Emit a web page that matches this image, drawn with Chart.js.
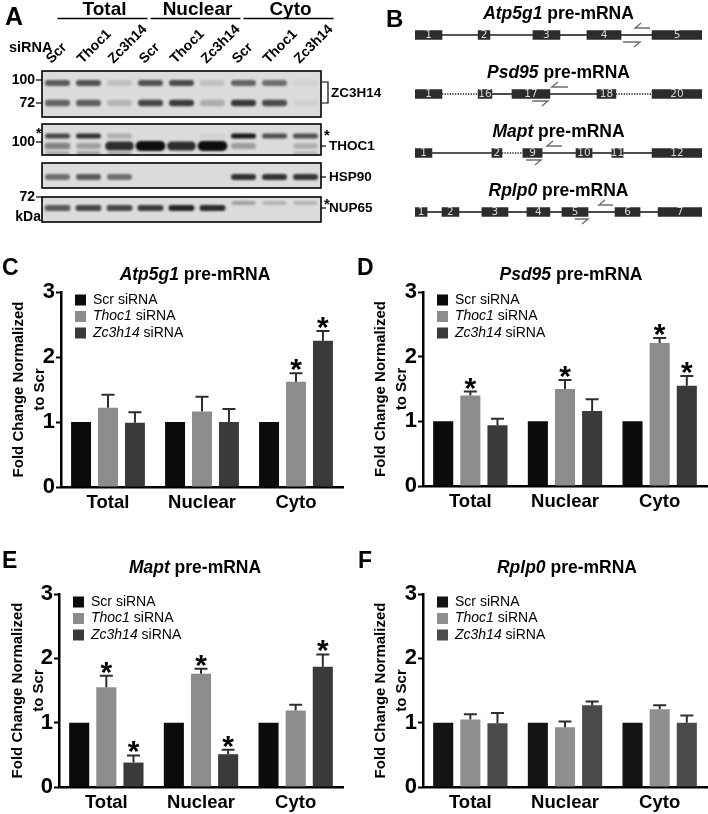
<!DOCTYPE html>
<html>
<head>
<meta charset="utf-8">
<script src="https://cdn.jsdelivr.net/npm/chart.js@4.4.1/dist/chart.umd.min.js"></script>
<style>
  body { margin: 0; background: #fff; font-family: 'Liberation Sans', Arial, sans-serif; }
  #page { position: relative; width: 708px; height: 814px; overflow: hidden; background: #fff; }
  canvas { position: absolute; }
  .letter { position: absolute; font-weight: bold; font-size: 24px; line-height: 1; }
  .title { position: absolute; font-weight: bold; font-size: 17.5px; line-height: 1; text-align: center; white-space: nowrap; }
</style>
</head>
<body>
<div id="page">
  <canvas id="blot" width="392" height="232" style="left:0;top:0"></canvas>
  <canvas id="genes" width="328" height="245" style="left:380px;top:0"></canvas>
  <canvas id="chartC" width="354" height="290" style="left:0;top:230px"></canvas>
  <canvas id="chartD" width="354" height="290" style="left:354px;top:230px"></canvas>
  <canvas id="chartE" width="354" height="284" style="left:0;top:530px"></canvas>
  <canvas id="chartF" width="354" height="284" style="left:354px;top:530px"></canvas>

  <div class="letter" style="left:5px;top:4px;font-size:25px">A</div>
  <div class="letter" style="left:386px;top:7px">B</div>
  <div class="letter" style="left:2px;top:256px;font-size:23px">C</div>
  <div class="letter" style="left:357px;top:256px;font-size:23px">D</div>
  <div class="letter" style="left:2px;top:549px;font-size:23px">E</div>
  <div class="letter" style="left:358px;top:549px;font-size:23px">F</div>

  <div class="title" style="left:40px;top:266px;width:310px"><i>Atp5g1</i> pre-mRNA</div>
  <div class="title" style="left:416px;top:266px;width:310px"><i>Psd95</i> pre-mRNA</div>
  <div class="title" style="left:40px;top:559px;width:310px"><i>Mapt</i> pre-mRNA</div>
  <div class="title" style="left:412px;top:559px;width:310px"><i>Rplp0</i> pre-mRNA</div>
</div>

<script>
const FONT = "'Liberation Sans', Arial, sans-serif";
Chart.defaults.font.family = FONT;
Chart.defaults.color = '#000';

// ---------- bar chart data (C-F) ----------
const fractions = ['Total', 'Nuclear', 'Cyto'];
const seriesNames = ['Scr', 'Thoc1', 'Zc3h14'];
const seriesItalic = [false, true, true];

// rows: Scr, Thoc1, Zc3h14 ; columns: Total, Nuclear, Cyto
const atp5g1Mean = [[1, 1, 1], [1.22, 1.16, 1.62], [0.99, 1.00, 2.25]];
const atp5g1Err  = [[0, 0, 0], [0.20, 0.23, 0.13], [0.16, 0.20, 0.15]];
const atp5g1Sig  = [[0, 0, 0], [0, 0, 1], [0, 0, 1]];

const psd95Mean = [[1, 1, 1], [1.40, 1.50, 2.21], [0.94, 1.16, 1.55]];
const psd95Err  = [[0, 0, 0], [0.06, 0.14, 0.08], [0.10, 0.18, 0.15]];
const psd95Sig  = [[0, 0, 0], [1, 1, 1], [0, 0, 1]];

const maptMean = [[1, 1, 1], [1.55, 1.76, 1.19], [0.38, 0.51, 1.87]];
const maptErr  = [[0, 0, 0], [0.18, 0.08, 0.09], [0.11, 0.07, 0.19]];
const maptSig  = [[0, 0, 0], [1, 1, 0], [1, 1, 1]];

const rplp0Mean = [[1, 1, 1], [1.05, 0.93, 1.21], [0.99, 1.27, 1.00]];
const rplp0Err  = [[0, 0, 0], [0.08, 0.09, 0.06], [0.16, 0.06, 0.11]];
const rplp0Sig  = [[0, 0, 0], [0, 0, 0], [0, 0, 0]];

const yTicks = [0, 1, 2, 3];
const barColors = ['#0b0b0b', '#8c8c8c', '#3a3a3a'];
const barColorsF = ['#141414', '#8f8f8f', '#4a4a4a'];

// ---------- western blot data (A) ----------
const lanes = ['Scr', 'Thoc1', 'Zc3h14', 'Scr', 'Thoc1', 'Zc3h14', 'Scr', 'Thoc1', 'Zc3h14'];
const zc3h14Upper = [0.62, 0.66, 0.12, 0.66, 0.70, 0.12, 0.58, 0.52, 0.04];
const zc3h14Lower = [0.58, 0.60, 0.18, 0.72, 0.78, 0.22, 0.80, 0.70, 0.04];
const thoc1Upper  = [0.72, 0.82, 0.22, 0, 0, 0.05, 0.95, 0.68, 0.68];
const thoc1Main   = [0.42, 0.28, 0.85, 1.00, 0.85, 1.00, 0.30, 0, 0.22];
const thoc1Lower  = [0.28, 0.32, 0.28, 0, 0, 0, 0, 0, 0.2];
const hsp90Band   = [0.52, 0.62, 0.52, 0, 0, 0, 0.82, 0.82, 0.80];
const nup65Band   = [0.62, 0.72, 0.72, 0.78, 0.88, 0.85, 0, 0, 0];
const nup65Upper  = [0, 0, 0, 0, 0, 0, 0.28, 0.18, 0.18];

// ---------- gene structure data (B), positions in % of gene width ----------
const genes = ['Atp5g1', 'Psd95', 'Mapt', 'Rplp0'];
const atp5g1Exons = [[0, 9.4], [22, 26.1], [41.1, 50.5], [59.9, 71.8], [82.6, 100]];
const psd95Exons  = [[0, 9.4], [22, 26.8], [33.8, 47], [63.4, 70], [82.6, 100]];
const maptExons   = [[0, 5.9], [26.8, 30.3], [37.6, 44.3], [56.1, 61.7], [68.6, 72.5], [82.6, 100]];
const rplp0Exons  = [[0, 4.2], [9.4, 15.3], [23.3, 32.4], [39, 47], [51.2, 60.3], [69.7, 78.4], [84.7, 100]];
const atp5g1ExonNo = ['1', '2', '3', '4', '5'];
const psd95ExonNo  = ['1', '16', '17', '18', '20'];
const maptExonNo   = ['1', '2', '9', '10', '11', '12'];
const rplp0ExonNo  = ['1', '2', '3', '4', '5', '6', '7'];
const atp5g1Introns = ['solid', 'solid', 'solid', 'solid'];
const psd95Introns  = ['dot', 'solid', 'solid', 'dot'];
const maptIntrons   = ['solid', 'dot', 'solid', 'solid', 'solid'];
const rplp0Introns  = ['solid', 'solid', 'solid', 'solid', 'solid', 'solid'];
// forward primer span, reverse primer span
const atp5g1Primers = [[72.5, 78.4], [76.7, 81.9]];
const psd95Primers  = [[40.8, 46.3], [47.7, 53.3]];
const maptPrimers   = [[38.7, 43.9], [46.0, 51.2]];
const rplp0Primers  = [[55.7, 60.3], [64.1, 69.0]];

// ================= panel A =================
// blot strips in blot-scale units (top..bottom)
const strips = [[0, 46], [53, 84], [92, 117], [126, 151]];
const bandRows = [
  { y: 12, h: 6, w: 25, vals: zc3h14Upper },
  { y: 32, h: 6.5, w: 25, vals: zc3h14Lower },
  { y: 65, h: 5, w: 25, vals: thoc1Upper },
  { y: 75, h: 7, w: 27, vals: thoc1Main, grow: true },
  { y: 82, h: 3, w: 24, vals: thoc1Lower },
  { y: 106, h: 6, w: 25, vals: hsp90Band },
  { y: 132, h: 4, w: 24, vals: nup65Upper },
  { y: 137, h: 6, w: 26, vals: nup65Band }
];

const blotExtras = {
  id: 'blotExtras',
  afterDraw(chart) {
    const { ctx, chartArea, scales: { x, y } } = chart;
    const L = chartArea.left, R = chartArea.right;
    ctx.save();
    strips.forEach(([a, b]) => {
      ctx.fillStyle = '#dcdcdc';
      ctx.fillRect(L, y.getPixelForValue(a), R - L, y.getPixelForValue(b) - y.getPixelForValue(a));
    });
    ctx.filter = 'blur(1.2px)';
    bandRows.forEach(row => {
      row.vals.forEach((v, i) => {
        if (v <= 0) return;
        const g = Math.round(218 - 205 * v);
        ctx.fillStyle = `rgb(${g},${g},${g})`;
        const h = row.grow ? row.h * (0.6 + 0.8 * v) : row.h;
        const w = row.grow ? row.w * (0.85 + 0.25 * v) : row.w;
        const cx = x.getPixelForValue(i), cy = y.getPixelForValue(row.y);
        ctx.beginPath();
        ctx.roundRect(cx - w / 2, cy - h / 2, w, h, h / 2);
        ctx.fill();
      });
    });
    ctx.filter = 'none';
    ctx.strokeStyle = '#000';
    ctx.lineWidth = 1.6;
    strips.forEach(([a, b]) => {
      ctx.strokeRect(L, y.getPixelForValue(a), R - L, y.getPixelForValue(b) - y.getPixelForValue(a));
    });

    // fraction headers with underlines
    ctx.fillStyle = '#000';
    ctx.font = `bold 19px ${FONT}`;
    ctx.textAlign = 'center';
    ctx.textBaseline = 'alphabetic';
    ctx.lineWidth = 1.5;
    fractions.forEach((f, k) => {
      const x0 = x.getPixelForValue(k * 3), x1 = x.getPixelForValue(k * 3 + 2) + 28;
      ctx.fillText(f, (x0 + x1) / 2 + 2, 15);
      ctx.beginPath(); ctx.moveTo(x0, 18.5); ctx.lineTo(x1, 18.5); ctx.stroke();
    });
    ctx.textAlign = 'left';
    ctx.font = `bold 14.5px ${FONT}`;
    ctx.fillText('siRNA', 9, 52);

    // rotated lane labels
    ctx.font = `bold 14px ${FONT}`;
    lanes.forEach((lab, i) => {
      ctx.save();
      ctx.translate(x.getPixelForValue(i) - 6, 64);
      ctx.rotate(-Math.PI / 4);
      ctx.fillText(lab, 0, 0);
      ctx.restore();
    });

    // molecular weight markers
    ctx.font = `bold 14px ${FONT}`;
    ctx.textAlign = 'right';
    ctx.textBaseline = 'middle';
    ctx.lineWidth = 1.2;
    [['100', 9], ['72', 32], ['100', 71], ['72', 126]].forEach(([t, v]) => {
      const py = y.getPixelForValue(v);
      ctx.fillText(t, 35, py);
      ctx.beginPath(); ctx.moveTo(36, py); ctx.lineTo(L, py); ctx.stroke();
    });
    ctx.fillText('kDa', 41, y.getPixelForValue(146));
    ctx.textAlign = 'left';
    ctx.fillText('*', 36, y.getPixelForValue(63));

    // protein labels on the right
    ctx.font = `bold 13.5px ${FONT}`;
    const yb0 = y.getPixelForValue(11), yb1 = y.getPixelForValue(32);
    ctx.beginPath();
    ctx.moveTo(R + 1, yb0); ctx.lineTo(R + 7, yb0); ctx.lineTo(R + 7, yb1); ctx.lineTo(R + 1, yb1);
    ctx.stroke();
    ctx.fillText('ZC3H14', R + 10, y.getPixelForValue(22));
    [['THOC1', 75], ['HSP90', 106], ['NUP65', 137]].forEach(([t, v]) => {
      const py = y.getPixelForValue(v);
      ctx.beginPath(); ctx.moveTo(R, py); ctx.lineTo(R + 5, py); ctx.stroke();
      ctx.fillText(t, R + 8, py);
    });
    ctx.font = `bold 15px ${FONT}`;
    ctx.fillText('*', R + 3, y.getPixelForValue(65));
    ctx.fillText('*', R + 3, y.getPixelForValue(134));
    ctx.restore();
  }
};

new Chart(document.getElementById('blot'), {
  type: 'bar',
  data: { labels: lanes, datasets: [] },
  options: {
    responsive: false,
    animation: false,
    layout: { padding: { left: 42, right: 71, top: 71, bottom: 10 } },
    plugins: { legend: { display: false }, tooltip: { enabled: false } },
    scales: {
      x: { type: 'category', display: false, offset: true },
      y: { type: 'linear', display: false, min: 0, max: 151, reverse: true }
    }
  },
  plugins: [blotExtras]
});

// ================= panel B =================
const geneExons = [atp5g1Exons, psd95Exons, maptExons, rplp0Exons];
const geneExonNo = [atp5g1ExonNo, psd95ExonNo, maptExonNo, rplp0ExonNo];
const geneIntrons = [atp5g1Introns, psd95Introns, maptIntrons, rplp0Introns];
const genePrimers = [atp5g1Primers, psd95Primers, maptPrimers, rplp0Primers];

const exonPoints = [];
genes.forEach((g, gi) => geneExons[gi].forEach(e => exonPoints.push({ x: e, y: g })));

const geneExtras = {
  id: 'geneExtras',
  beforeDatasetsDraw(chart) {
    const { ctx, scales: { x, y } } = chart;
    ctx.save();
    ctx.strokeStyle = '#1e1e1e';
    genes.forEach((g, gi) => {
      const py = y.getPixelForValue(gi);
      const ex = geneExons[gi];
      geneIntrons[gi].forEach((style, j) => {
        ctx.lineWidth = style === 'dot' ? 1.3 : 1.6;
        ctx.setLineDash(style === 'dot' ? [1.3, 1.3] : []);
        ctx.beginPath();
        ctx.moveTo(x.getPixelForValue(ex[j][1]), py);
        ctx.lineTo(x.getPixelForValue(ex[j + 1][0]), py);
        ctx.stroke();
      });
    });
    ctx.restore();
  },
  afterDatasetsDraw(chart) {
    const { ctx, chartArea, scales: { x, y } } = chart;
    ctx.save();
    const cx = (chartArea.left + chartArea.right) / 2;
    genes.forEach((g, gi) => {
      const py = y.getPixelForValue(gi);
      // exon numbers
      ctx.font = `10.5px 'DejaVu Sans', sans-serif`;
      ctx.fillStyle = '#d8d8d8';
      ctx.textAlign = 'center';
      ctx.textBaseline = 'middle';
      geneExons[gi].forEach((e, j) => {
        ctx.fillText(geneExonNo[gi][j], x.getPixelForValue((e[0] + e[1]) / 2), py + 0.5);
      });
      // primers (half arrows)
      ctx.strokeStyle = '#6e6e6e';
      ctx.lineWidth = 1.4;
      const [fw, rv] = genePrimers[gi];
      const fx0 = x.getPixelForValue(fw[0]), fx1 = x.getPixelForValue(fw[1]);
      const rx0 = x.getPixelForValue(rv[0]), rx1 = x.getPixelForValue(rv[1]);
      ctx.beginPath();
      ctx.moveTo(fx0, py + 7); ctx.lineTo(fx1, py + 7); ctx.lineTo(fx1 - 6, py + 12);
      ctx.moveTo(rx1, py - 7); ctx.lineTo(rx0, py - 7); ctx.lineTo(rx0 + 6, py - 12);
      ctx.stroke();
      // title
      ctx.fillStyle = '#000';
      ctx.textBaseline = 'alphabetic';
      ctx.textAlign = 'left';
      const it = `italic bold 17.5px ${FONT}`, rg = `bold 17.5px ${FONT}`;
      ctx.font = it; const w1 = ctx.measureText(g).width;
      ctx.font = rg; const w2 = ctx.measureText(' pre-mRNA').width;
      const tx = cx - (w1 + w2) / 2, ty = py - 16;
      ctx.font = it; ctx.fillText(g, tx, ty);
      ctx.font = rg; ctx.fillText(' pre-mRNA', tx + w1, ty);
    });
    ctx.restore();
  }
};

new Chart(document.getElementById('genes'), {
  type: 'bar',
  data: {
    labels: genes,
    datasets: [{ data: exonPoints, backgroundColor: '#2c2c2c', barThickness: 9 }]
  },
  options: {
    indexAxis: 'y',
    responsive: false,
    animation: false,
    layout: { padding: { left: 35, right: 6, top: 5.5, bottom: 3.5 } },
    plugins: { legend: { display: false }, tooltip: { enabled: false } },
    scales: {
      x: { type: 'linear', display: false, min: 0, max: 100 },
      y: { type: 'category', display: false, offset: true }
    }
  },
  plugins: [geneExtras]
});

// ================= panels C-F =================
const barExtras = {
  id: 'barExtras',
  afterDatasetsDraw(chart) {
    const { ctx, chartArea, scales: { y } } = chart;
    ctx.save();
    chart.data.datasets.forEach((ds, di) => {
      const meta = chart.getDatasetMeta(di);
      meta.data.forEach((bar, i) => {
        const e = ds.errs[i];
        if (!e) return;
        const top = y.getPixelForValue(ds.data[i] + e);
        ctx.strokeStyle = '#2e2e2e';
        ctx.lineWidth = 2;
        ctx.beginPath();
        ctx.moveTo(bar.x, bar.y);
        ctx.lineTo(bar.x, top);
        ctx.moveTo(bar.x - 6.5, top);
        ctx.lineTo(bar.x + 6.5, top);
        ctx.stroke();
        if (ds.sig[i]) {
          ctx.fillStyle = '#000';
          ctx.font = `bold 30px ${FONT}`;
          ctx.textAlign = 'center';
          ctx.textBaseline = 'alphabetic';
          ctx.fillText('*', bar.x, top + 6);
        }
      });
    });
    // legend inside plot area
    ctx.textBaseline = 'middle';
    ctx.textAlign = 'left';
    chart.data.datasets.forEach((ds, di) => {
      const ly = chartArea.top + 8 + di * 16.5;
      const lx = chartArea.left + 14;
      ctx.fillStyle = ds.backgroundColor;
      ctx.fillRect(lx, ly - 5.5, 11, 11);
      ctx.fillStyle = '#000';
      ctx.font = (seriesItalic[di] ? 'italic ' : '') + `14px ${FONT}`;
      ctx.fillText(seriesNames[di], lx + 18, ly);
      const w = ctx.measureText(seriesNames[di]).width;
      ctx.font = `14px ${FONT}`;
      ctx.fillText(' siRNA', lx + 18 + w, ly);
    });
    ctx.restore();
  }
};

function barPanel(id, means, errs, sigs, colors, box) {
  return new Chart(document.getElementById(id), {
    type: 'bar',
    data: {
      labels: fractions,
      datasets: seriesNames.map((name, i) => ({
        label: name + ' siRNA',
        data: means[i],
        errs: errs[i],
        sig: sigs[i],
        backgroundColor: colors[i],
        categoryPercentage: 0.86,
        barPercentage: 0.74
      }))
    },
    options: {
      responsive: false,
      animation: false,
      layout: { padding: { left: 0, right: box.right, top: box.top, bottom: 0 } },
      plugins: { legend: { display: false }, tooltip: { enabled: false } },
      scales: {
        x: {
          grid: { display: false, drawTicks: false },
          border: { color: '#000', width: 2.5 },
          ticks: { font: { size: 18.5, weight: 'bold' }, color: '#000', padding: 5 },
          afterFit: s => { s.height = box.xh; }
        },
        y: {
          min: 0,
          max: 3,
          afterBuildTicks: s => { s.ticks = yTicks.map(v => ({ value: v })); },
          ticks: { font: { size: 22, weight: 'bold' }, color: '#000', padding: 1 },
          grid: { drawOnChartArea: false, tickLength: 5, tickWidth: 2, tickColor: '#000' },
          border: { color: '#000', width: 2.5 },
          title: {
            display: true,
            text: ['Fold Change Normalized', 'to Scr'],
            font: { size: 15, weight: 'bold', lineHeight: 1.4 },
            color: '#000',
            padding: { top: box.tp, bottom: 0 }
          },
          afterFit: s => { s.width = box.yw; }
        }
      }
    },
    plugins: [barExtras]
  });
}

barPanel('chartC', atp5g1Mean, atp5g1Err, atp5g1Sig, barColors, { right: 11, top: 62, xh: 33, yw: 61, tp: 8.5 });
barPanel('chartD', psd95Mean, psd95Err, psd95Sig, barColors, { right: 1, top: 62, xh: 34, yw: 69, tp: 16.5 });
barPanel('chartE', maptMean, maptErr, maptSig, barColors, { right: 11, top: 64, xh: 27, yw: 59, tp: 7.5 });
barPanel('chartF', rplp0Mean, rplp0Err, rplp0Sig, barColorsF, { right: 1, top: 64, xh: 27, yw: 69, tp: 16.5 });
</script>
</body>
</html>
